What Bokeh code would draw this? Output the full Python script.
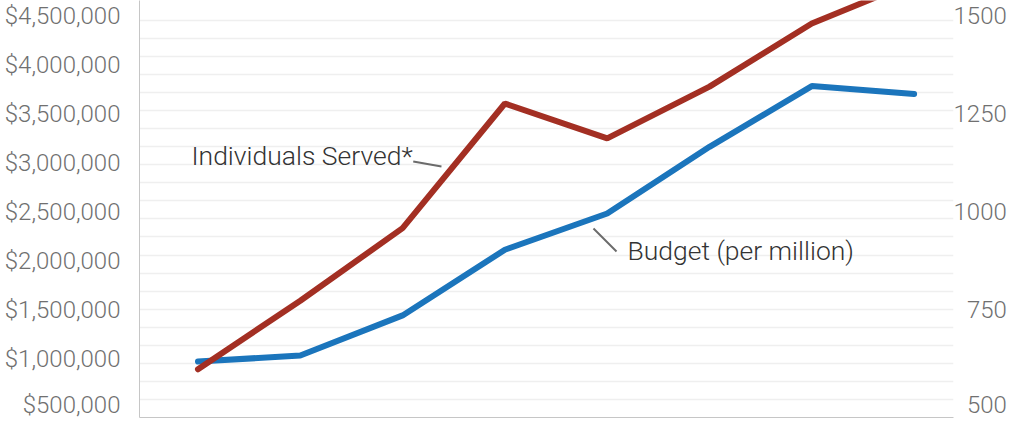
from bokeh.plotting import figure
from bokeh.models import Range1d, LinearAxis, FixedTicker, NumeralTickFormatter, Grid, Label
from bokeh.embed import file_html
from bokeh.resources import INLINE

# ---- data ----
periods = list(range(8))
budget = [980000, 1040000, 1450000, 2120000, 2490000, 3170000, 3790000, 3710000]
served = [600, 775, 960, 1278, 1189, 1321, 1482, 1589]
budget_ticks = [500000, 1000000, 1500000, 2000000, 2500000, 3000000, 3500000, 4000000, 4500000]
served_ticks = [500, 750, 1000, 1250, 1500]
grid_steps = list(range(1, 23))

label_served = "Individuals Served*"
label_budget = "Budget (per million)"

FONT = "Roboto Light"
BLUE = "#1b75bc"
RED = "#a32f23"
AXIS_GREY = "#c6c6c6"
TICK_GREY = "#707070"
TEXT_DARK = "#333333"

p = figure(width=1018, height=418, output_backend="svg", toolbar_location=None,
           x_range=Range1d(-0.5718, 7.3851), y_range=Range1d(408163, 4663265),
           x_axis_location=None, y_axis_location=None,
           min_border_left=139, min_border_right=65, min_border_top=0, min_border_bottom=1)
p.outline_line_color = None
for g in p.grid:
    g.visible = False

p.extra_y_ranges = {"served": Range1d(477.0, 1540.8), "grid": Range1d(0, 23.10)}

p.add_layout(Grid(dimension=1, y_range_name="grid", ticker=FixedTicker(ticks=grid_steps),
                  grid_line_color="#efefef", grid_line_width=1.5))

yl = LinearAxis(ticker=FixedTicker(ticks=budget_ticks, minor_ticks=[]),
                formatter=NumeralTickFormatter(format="$0,0"),
                major_tick_out=0, major_tick_in=0, minor_tick_out=0, minor_tick_in=0,
                axis_line_color=AXIS_GREY, major_label_text_font=FONT,
                major_label_text_font_size="24px", major_label_text_color=TICK_GREY,
                major_label_standoff=19)
p.add_layout(yl, "left")

# right-aligned look: pad shorter labels with figure spaces (digit width)
served_labels = {t: str(t).rjust(4, "\u2007") for t in served_ticks}
yr = LinearAxis(y_range_name="served", ticker=FixedTicker(ticks=served_ticks, minor_ticks=[]),
                major_label_overrides=served_labels,
                major_tick_out=0, major_tick_in=0, minor_tick_out=0, minor_tick_in=0,
                axis_line_color=None, major_label_text_font=FONT,
                major_label_text_font_size="24px", major_label_text_color=TICK_GREY,
                major_label_standoff=0)
p.add_layout(yr, "right")

xb = LinearAxis(ticker=FixedTicker(ticks=[], minor_ticks=[]),
                major_tick_out=0, major_tick_in=0, minor_tick_out=0, minor_tick_in=0,
                axis_line_color=AXIS_GREY, major_label_standoff=0,
                major_label_text_font_size="1px")
p.add_layout(xb, "below")

p.line(periods, budget, line_color=BLUE, line_width=6, line_cap="round")
p.line(periods, served, y_range_name="served", line_color=RED, line_width=6, line_cap="round")

# callout leaders (data coordinates)
lead_x0 = [2.104, 3.866]
lead_y0 = [3020400, 2336700]
lead_x1 = [2.380, 4.091]
lead_y1 = [2969400, 2102000]
p.segment(lead_x0, lead_y0, lead_x1, lead_y1, line_color="#6b6b6b", line_width=2)

p.add_layout(Label(x=-0.0635, y=3081600, text=label_served, text_font=FONT,
                   text_font_size="26.5px", text_color=TEXT_DARK, text_baseline="alphabetic"))
p.add_layout(Label(x=4.198, y=2112650, text=label_budget, text_font=FONT,
                   text_font_size="26.5px", text_color=TEXT_DARK, text_baseline="alphabetic"))

open("out.html", "w").write(file_html(p, INLINE))
